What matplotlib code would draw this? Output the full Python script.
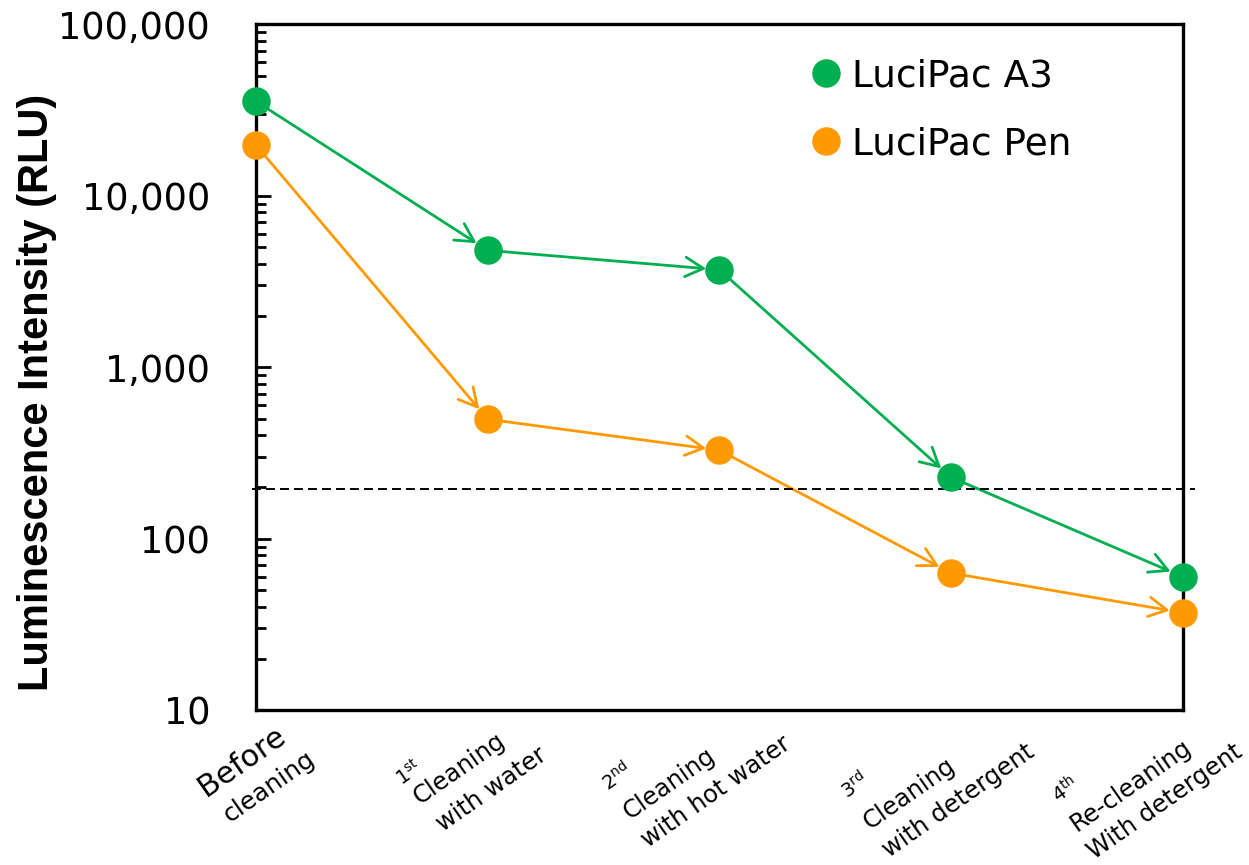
import numpy as np
import matplotlib as mpl
mpl.use('Agg')
import matplotlib.pyplot as plt
from matplotlib.ticker import FuncFormatter, LogLocator, NullFormatter

steps = [0, 1, 2, 3, 4]
a3 = [35500, 4800, 3700, 228, 60]
pen = [19700, 497, 328, 63, 37]
threshold = 195
green = '#00B050'
orange = '#FF9900'

# x labels: one entry per line (text, size)
xlabels = [
    [('Before', 22), ('cleaning', 18)],
    [('1$^{\\mathrm{st}}$', 14), ('Cleaning', 17.5), ('with water', 17.5)],
    [('2$^{\\mathrm{nd}}$', 14), ('Cleaning', 17.5), ('with hot water', 17.5)],
    [('3$^{\\mathrm{rd}}$', 14), ('Cleaning', 17.5), ('with detergent', 17.5)],
    [('4$^{\\mathrm{th}}$', 14), ('Re-cleaning', 17.5), ('With detergent', 17.5)],
]
# baseline start of each line, pixels from tick / axis bottom
xlab_off = [
    [(-50, -87), (-26, -113)],
    [(-86, -76), (-68, -95), (-45, -122)],
    [(-111, -82), (-90, -110), (-71, -138)],
    [(-104, -90), (-81, -120), (-62, -148)],
    [(-124, -94), (-106, -122), (-89, -150)],
]

plt.rcParams['font.family'] = 'DejaVu Sans'
fig = plt.figure(figsize=(12.49, 8.65), dpi=100)
ax = fig.add_axes([0.205, 0.179, 0.742, 0.793])
ax.set_yscale('log')
ax.set_ylim(10, 100000)
ax.set_xlim(0, 4)

# segments with open arrowheads
for ys, c in ((a3, green), (pen, orange)):
    for i in range(len(steps) - 1):
        ax.annotate('', xy=(steps[i+1], ys[i+1]), xytext=(steps[i], ys[i]),
                    arrowprops=dict(arrowstyle='->,head_length=0.65,head_width=0.35',
                                    color=c, lw=2.0, shrinkA=9.5, shrinkB=9.5,
                                    mutation_scale=20),
                    annotation_clip=False, zorder=3)

l1, = ax.plot(steps, a3, 'o', color=green, ms=19.5, mec=green, clip_on=False, zorder=5, label='LuciPac A3')
l2, = ax.plot(steps, pen, 'o', color=orange, ms=19.5, mec=orange, clip_on=False, zorder=5, label='LuciPac Pen')

ax.plot([-0.017, 4.052], [threshold, threshold], color='black', lw=1.4,
        dashes=(4.6, 2.6), clip_on=False, zorder=4)

for s in ax.spines.values():
    s.set_linewidth(2.4)
ax.set_xticks([])
ax.yaxis.set_major_locator(LogLocator(base=10, numticks=10))
ax.yaxis.set_minor_locator(LogLocator(base=10, subs=np.arange(2, 10), numticks=10))
ax.yaxis.set_minor_formatter(NullFormatter())
ax.yaxis.set_major_formatter(FuncFormatter(lambda v, p: f'{int(round(v)):,}'))
ax.tick_params(axis='y', which='major', direction='in', length=11, width=2, pad=33, labelsize=26.5)
ax.tick_params(axis='y', which='minor', direction='in', length=7.5, width=2)

ax.set_ylabel('Luminescence Intensity (RLU)', family='Liberation Sans', fontweight='bold', fontsize=30)
ax.yaxis.set_label_coords(-0.215, 0.464)

for i, lines in enumerate(xlabels):
    for (txt, sz), (dx, dy) in zip(lines, xlab_off[i]):
        ax.annotate(txt, xy=(steps[i], 0), xycoords=('data', 'axes fraction'),
                    xytext=(dx, dy), textcoords='offset pixels', fontsize=sz,
                    rotation=35, rotation_mode='anchor', ha='left', va='baseline',
                    annotation_clip=False)

ax.legend(handles=[l1, l2], loc='upper left', bbox_to_anchor=(0.584, 0.972),
          frameon=False, fontsize=27, handlelength=0.75, handletextpad=0.3,
          labelspacing=0.85, borderaxespad=0, markerscale=1.0)

plt.savefig('out.png', dpi=100)
